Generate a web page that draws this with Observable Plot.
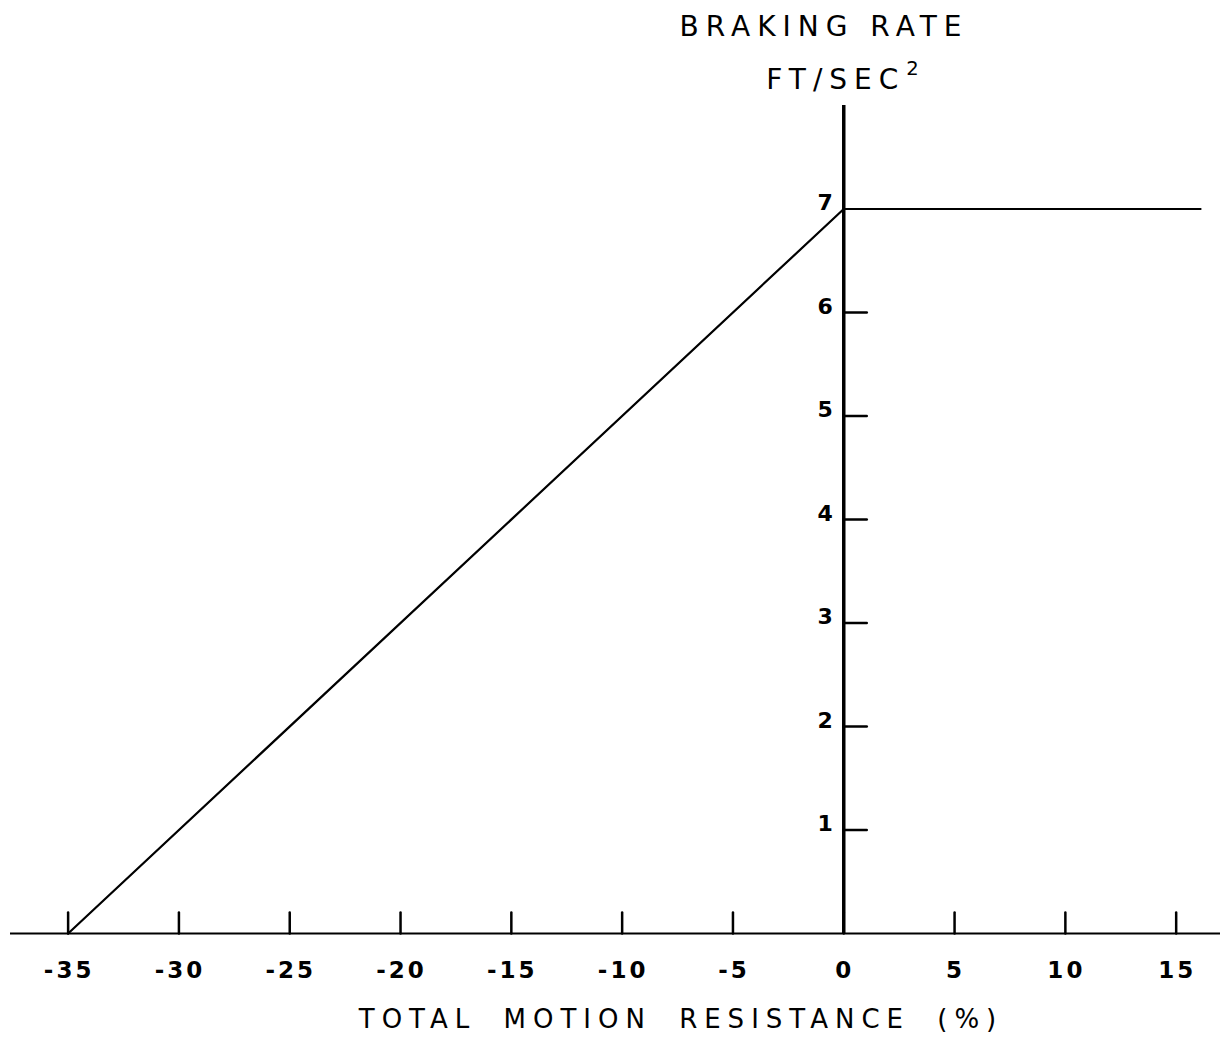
<!DOCTYPE html>
<html><head><meta charset="utf-8">
<script src="https://cdn.jsdelivr.net/npm/d3@7"></script>
<script src="https://cdn.jsdelivr.net/npm/@observablehq/plot@0.6"></script>
<style>
html,body{margin:0;padding:0;background:#fff;}
#wrap{position:relative;width:1225px;height:1053px;overflow:hidden;font-family:"DejaVu Sans",sans-serif;color:#000;background:#fff;}
.t{position:absolute;white-space:nowrap;transform:translateX(-50%);line-height:1;}
.t sup{font-size:70%;vertical-align:top;position:relative;top:-7px;margin-left:1px;}
#chart{position:absolute;left:0;top:100px;}
.xl text{letter-spacing:3px;}
</style></head><body>
<div id="wrap">
 <div class="t" style="left:824px;top:13px;font-size:28px;letter-spacing:7px;">BRAKING RATE</div>
 <div class="t" style="left:846px;top:66px;font-size:28px;letter-spacing:7px;">FT/SEC<sup>2</sup></div>
 <div id="chart"></div>
 <div class="t" style="left:681px;top:1006px;font-size:26px;letter-spacing:7px;word-spacing:12px;">TOTAL MOTION RESISTANCE (%)</div>
</div>
<script>
const xTicks = [-35, -30, -25, -20, -15, -10, -5, 0, 5, 10, 15];
const xTickLabels = ["-35", "-30", "-25", "-20", "-15", "-10", "-5", "0", "5", "10", "15"];
const yTicks = [1, 2, 3, 4, 5, 6];
const yLabelValues = [1, 2, 3, 4, 5, 6, 7];
const yTickLabels = ["1", "2", "3", "4", "5", "6", "7"];
const lineX = [-35, 0, 16.1];
const lineY = [0, 7, 7];

const lineData = lineX.map((x, i) => ({x, y: lineY[i]}));
const tickShape = {draw(context, l) { context.moveTo(0, 0); context.lineTo(0, -l); }};

const plot = Plot.plot({
  width: 1225, height: 900,
  marginTop: 5, marginBottom: 67, marginLeft: 10, marginRight: 5,
  x: {domain: [-37.6, 17.0], axis: null},
  y: {domain: [0, 8], axis: null},
  style: {fontFamily: "DejaVu Sans", background: "white", color: "black"},
  marks: [
    Plot.ruleY([0], {stroke: "black", strokeWidth: 2}),
    Plot.ruleX([0], {stroke: "black", strokeWidth: 3.5}),
    Plot.vector(xTicks, {x: d => d, y: 0, length: 21, rotate: 0, anchor: "start", shape: tickShape, stroke: "black", strokeWidth: 2.5}),
    Plot.vector(yTicks, {x: 0, y: d => d, length: 23, rotate: 90, anchor: "start", shape: tickShape, stroke: "black", strokeWidth: 2.5}),
    Plot.text(xTickLabels, {x: (d, i) => xTicks[i], y: 0, text: d => d, dy: 37, dx: 1, fontSize: 23, fontWeight: "bold", fill: "black", className: "xl"}),
    Plot.text(yTickLabels, {x: 0, y: (d, i) => yLabelValues[i], text: d => d, dx: -11, dy: -6, textAnchor: "end", fontSize: 22, fontWeight: "bold", fill: "black"}),
    Plot.line(lineData, {x: "x", y: "y", stroke: "black", strokeWidth: 2.2})
  ]
});
document.getElementById("chart").appendChild(plot);
</script>
</body></html>
